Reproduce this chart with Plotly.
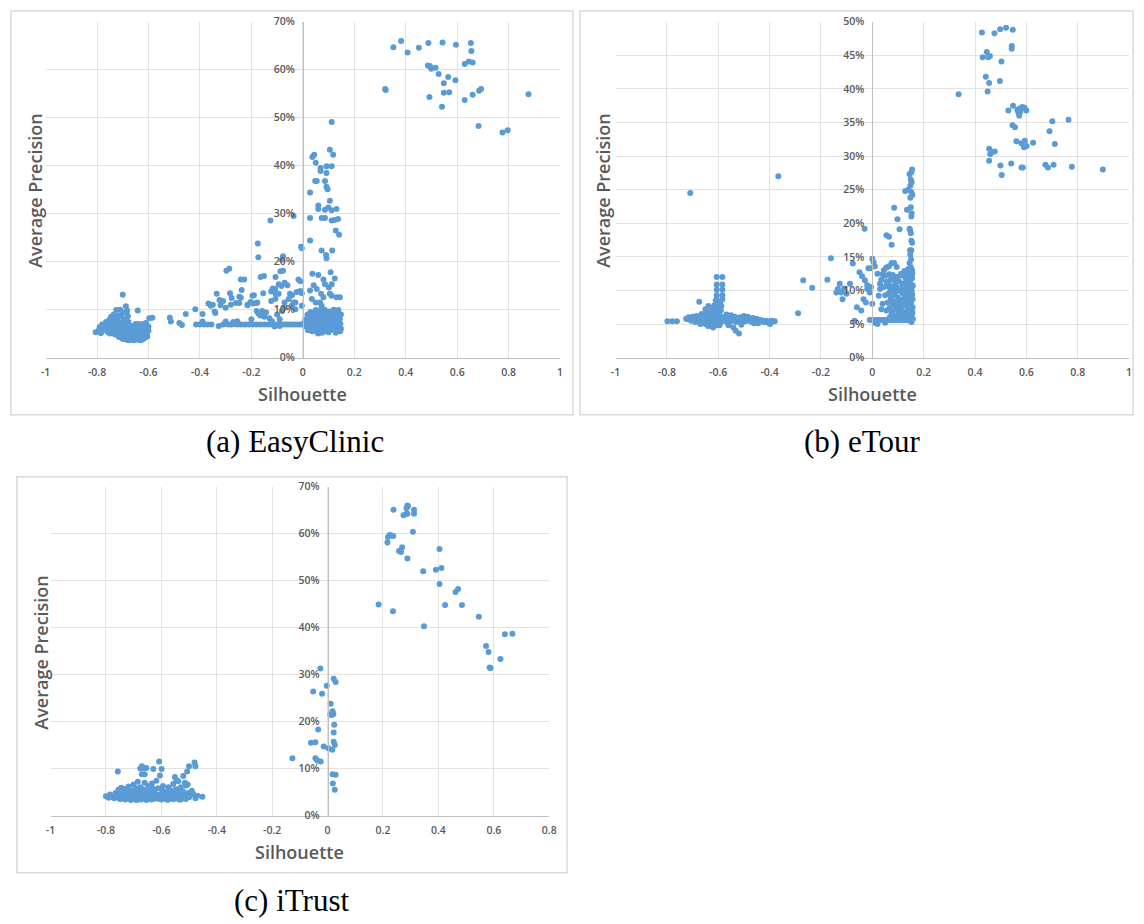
import plotly.graph_objects as go

W, H = 1144, 924

# ---------------- tick labels / texts ----------------
x_tickvals_ab = [-1, -0.8, -0.6, -0.4, -0.2, 0, 0.2, 0.4, 0.6, 0.8, 1]
x_ticktext_ab = ["-1", "-0.8", "-0.6", "-0.4", "-0.2", "0", "0.2", "0.4", "0.6", "0.8", "1"]
x_tickvals_c = [-1, -0.8, -0.6, -0.4, -0.2, 0, 0.2, 0.4, 0.6, 0.8]
x_ticktext_c = ["-1", "-0.8", "-0.6", "-0.4", "-0.2", "0", "0.2", "0.4", "0.6", "0.8"]
y_tickvals_70 = [0, 10, 20, 30, 40, 50, 60, 70]
y_ticktext_70 = ["0%", "10%", "20%", "30%", "40%", "50%", "60%", "70%"]
y_tickvals_50 = [0, 5, 10, 15, 20, 25, 30, 35, 40, 45, 50]
y_ticktext_50 = ["0%", "5%", "10%", "15%", "20%", "25%", "30%", "35%", "40%", "45%", "50%"]
captions = ["(a) EasyClinic", "(b) eTour", "(c) iTrust"]
x_title = "Silhouette"
y_title = "Average Precision"

# ---------------- (a) EasyClinic: (silhouette, average precision %) ----------------
easyclinic_top = [
    (0.382, 66.0), (0.352, 64.7), (0.407, 63.6), (0.451, 64.6), (0.488, 65.6), (0.543, 65.7),
    (0.595, 65.2), (0.653, 65.6), (0.655, 63.9), (0.629, 61.2), (0.645, 61.7), (0.660, 61.5),
    (0.486, 60.9), (0.494, 60.8), (0.499, 60.2), (0.516, 60.4), (0.528, 59.1), (0.565, 58.5),
    (0.593, 57.8), (0.548, 57.2), (0.548, 55.2), (0.569, 55.3), (0.320, 56.0), (0.322, 55.8),
    (0.492, 54.3), (0.660, 54.8), (0.629, 53.7), (0.685, 55.6), (0.693, 56.0), (0.541, 52.3),
    (0.877, 54.9), (0.683, 48.3), (0.776, 46.9), (0.796, 47.4),
]
easyclinic_strip = [
    (0.112, 49.1), (0.105, 43.3), (0.118, 42.3), (0.037, 41.8), (0.044, 42.3), (0.050, 40.6),
    (0.092, 39.9), (0.112, 39.9), (0.069, 39.5), (0.069, 38.9), (0.092, 38.5), (0.054, 36.8),
    (0.048, 36.8), (0.086, 36.8), (0.092, 35.6), (0.096, 35.1), (0.028, 34.4), (0.105, 32.7),
    (0.060, 31.7), (0.060, 31.0), (0.099, 31.3), (0.086, 30.8), (0.131, 31.0), (0.112, 30.7),
    (0.028, 29.1), (0.073, 29.1), (0.086, 29.1), (0.112, 28.6), (0.124, 28.7), (0.137, 28.9),
    (0.128, 26.5), (0.141, 25.6), (0.028, 24.4), (0.073, 22.3), (0.114, 22.3), (0.090, 21.4),
    (0.092, 20.7), (0.108, 17.8), (0.037, 17.5), (0.060, 17.2), (0.080, 16.3), (0.124, 16.5),
    (0.086, 15.3), (0.101, 14.6), (0.042, 15.1), (0.054, 14.3), (0.112, 15.3), (0.028, 14.0),
    (0.071, 13.3), (0.080, 12.6), (0.105, 13.3), (0.112, 12.9), (0.131, 12.6), (0.144, 12.6),
    (0.035, 12.2), (0.050, 11.5), (0.067, 11.5), (0.073, 10.8),
]
easyclinic_middle = [
    (-0.517, 8.3), (-0.513, 7.5), (-0.480, 7.2), (-0.470, 6.8), (-0.455, 9.1), (-0.418, 10.1),
    (-0.390, 9.1), (-0.367, 11.3), (-0.358, 10.8), (-0.335, 13.3), (-0.343, 9.6), (-0.340, 9.3),
    (-0.324, 12.0), (-0.320, 10.9), (-0.297, 18.1), (-0.286, 18.5), (-0.283, 13.4), (-0.277, 12.4),
    (-0.280, 11.0), (-0.260, 11.4), (-0.247, 11.4), (-0.238, 14.1), (-0.241, 16.3), (-0.228, 16.3),
    (-0.247, 12.7), (-0.241, 12.5), (-0.215, 10.9), (-0.196, 12.9), (-0.192, 11.3), (-0.180, 11.4),
    (-0.173, 20.9), (-0.175, 23.8), (-0.164, 16.8), (-0.151, 17.0), (-0.154, 13.4), (-0.180, 9.7),
    (-0.173, 9.2), (-0.165, 8.8), (-0.158, 9.7), (-0.143, 9.4), (-0.150, 8.5), (-0.126, 28.6),
    (-0.106, 16.8), (-0.117, 14.4), (-0.110, 13.8), (-0.105, 13.2), (-0.087, 18.0), (-0.077, 18.1),
    (-0.077, 21.1), (-0.081, 20.4), (-0.094, 15.3), (-0.083, 14.9), (-0.071, 15.6), (-0.107, 14.3),
    (-0.094, 13.3), (-0.123, 13.8), (-0.050, 13.3), (-0.024, 13.7), (-0.010, 13.9), (-0.004, 13.4),
    (-0.123, 11.8), (-0.107, 12.2), (-0.071, 11.5), (-0.190, 13.0), (-0.177, 11.5), (-0.081, 9.7),
    (-0.071, 10.4), (-0.043, 10.8), (-0.029, 10.1), (-0.029, 11.5), (-0.004, 10.8), (-0.215, 11.0),
    (-0.203, 11.6), (-0.036, 29.5), (-0.042, 13.0), (-0.036, 11.5), (-0.017, 16.3), (-0.010, 15.9),
    (-0.060, 15.1), (-0.055, 12.2), (-0.100, 9.0), (-0.090, 8.0), (-0.130, 8.2), (-0.120, 7.6),
    (-0.300, 7.5), (-0.270, 7.4), (-0.255, 7.6), (-0.200, 8.0), (-0.310, 11.8), (-0.350, 11.0),
    (-0.300, 10.4), (-0.390, 7.5), (-0.007, 23.1), (-0.004, 22.8),
]
easyclinic_row = [
    (-0.415, 6.9), (-0.400, 6.9), (-0.385, 6.9), (-0.370, 6.9), (-0.355, 6.9), (-0.327, 6.6),
    (-0.310, 6.9), (-0.298, 7.0), (-0.288, 6.9), (-0.278, 6.9), (-0.268, 7.0), (-0.255, 6.9),
    (-0.240, 6.9), (-0.225, 6.9), (-0.210, 6.9), (-0.195, 6.9), (-0.180, 6.9), (-0.165, 6.9),
    (-0.150, 6.9), (-0.135, 6.9), (-0.120, 6.9), (-0.110, 6.9), (-0.100, 6.9), (-0.090, 6.9),
    (-0.080, 6.9), (-0.070, 6.9), (-0.060, 6.9), (-0.050, 6.9), (-0.040, 6.9), (-0.030, 6.9),
    (-0.020, 6.9), (-0.010, 6.9), (0.000, 6.9), (0.010, 6.9), (-0.110, 6.5), (-0.090, 6.6),
]
easyclinic_dense = [
    (0.005, 7.2), (0.010, 8.0), (0.012, 6.5), (0.015, 7.6), (0.018, 9.0), (0.020, 6.9), (0.022, 8.4),
    (0.025, 7.3), (0.028, 6.2), (0.030, 9.5), (0.032, 7.9), (0.035, 6.7), (0.037, 8.6), (0.040, 7.1),
    (0.042, 5.8), (0.045, 8.0), (0.047, 9.2), (0.050, 6.5), (0.052, 7.6), (0.055, 5.3), (0.057, 8.8),
    (0.060, 7.0), (0.062, 6.1), (0.064, 9.8), (0.066, 8.2), (0.068, 5.6), (0.070, 7.4), (0.072, 6.6),
    (0.074, 8.9), (0.076, 7.8), (0.078, 5.9), (0.080, 9.3), (0.082, 7.0), (0.084, 6.3), (0.086, 8.5),
    (0.088, 7.5), (0.090, 5.5), (0.092, 9.0), (0.094, 6.8), (0.096, 8.1), (0.098, 7.2), (0.100, 6.0),
    (0.102, 9.6), (0.104, 7.7), (0.106, 6.5), (0.108, 8.6), (0.110, 7.1), (0.112, 5.8), (0.114, 8.3),
    (0.116, 6.9), (0.118, 9.1), (0.120, 7.5), (0.122, 6.2), (0.124, 8.0), (0.126, 7.0), (0.128, 9.6),
    (0.130, 6.6), (0.132, 8.4), (0.134, 7.3), (0.136, 5.9), (0.138, 8.8), (0.140, 7.7), (0.142, 6.4),
    (0.144, 8.1), (0.146, 7.0), (0.148, 9.0), (0.148, 6.0), (0.145, 5.5), (0.060, 5.0), (0.075, 5.2),
    (0.090, 6.3), (0.050, 9.9), (0.085, 10.0), (0.120, 10.0), (0.035, 5.5), (0.020, 5.7), (0.100, 5.3),
    (0.130, 5.6), (0.065, 7.9), (0.095, 7.8), (0.115, 7.6), (0.055, 6.9), (0.080, 6.8), (0.110, 6.9),
    (0.140, 6.9), (0.125, 8.9), (0.100, 8.7), (0.070, 8.5), (0.045, 7.0), (0.025, 8.6), (0.138, 9.9),
    (0.128, 5.2),
]
easyclinic_left = [
    (-0.805, 5.3), (-0.795, 5.6), (-0.790, 6.4), (-0.785, 5.1), (-0.780, 6.9), (-0.775, 5.8),
    (-0.770, 6.2), (-0.765, 7.4), (-0.760, 5.4), (-0.758, 6.7), (-0.752, 7.9), (-0.750, 6.0),
    (-0.745, 8.5), (-0.742, 5.2), (-0.740, 7.0), (-0.735, 9.0), (-0.733, 6.3), (-0.730, 8.1),
    (-0.728, 5.6), (-0.725, 9.9), (-0.722, 7.5), (-0.720, 4.9), (-0.718, 6.8), (-0.715, 8.8),
    (-0.712, 5.9), (-0.710, 10.0), (-0.708, 7.2), (-0.705, 4.5), (-0.703, 6.4), (-0.700, 13.1),
    (-0.700, 9.4), (-0.698, 5.5), (-0.695, 8.0), (-0.692, 4.1), (-0.690, 6.9), (-0.688, 10.7),
    (-0.685, 5.0), (-0.683, 9.8), (-0.680, 3.8), (-0.678, 7.4), (-0.675, 6.1), (-0.672, 4.6),
    (-0.670, 5.6), (-0.667, 3.7), (-0.665, 6.6), (-0.662, 4.3), (-0.660, 5.2), (-0.657, 3.6),
    (-0.655, 6.0), (-0.652, 4.8), (-0.650, 7.0), (-0.648, 3.9), (-0.645, 5.5), (-0.642, 9.8),
    (-0.640, 4.4), (-0.637, 6.5), (-0.635, 3.7), (-0.632, 5.0), (-0.630, 4.1), (-0.627, 6.2),
    (-0.625, 5.7), (-0.622, 3.8), (-0.620, 4.7), (-0.617, 6.8), (-0.615, 5.3), (-0.612, 4.2),
    (-0.610, 6.0), (-0.607, 5.0), (-0.605, 4.4), (-0.600, 5.6), (-0.597, 8.2), (-0.585, 8.3),
    (-0.600, 6.5), (-0.690, 4.0), (-0.675, 3.6), (-0.660, 4.0), (-0.645, 3.7), (-0.630, 3.6),
    (-0.715, 4.3), (-0.730, 4.8), (-0.750, 5.0), (-0.640, 7.0), (-0.622, 7.0), (-0.610, 7.2),
    (-0.700, 3.9), (-0.685, 3.7), (-0.672, 4.0), (-0.655, 3.9), (-0.640, 4.0), (-0.625, 4.3),
    (-0.610, 4.6), (-0.695, 4.7), (-0.680, 4.3), (-0.665, 4.7), (-0.648, 4.5), (-0.633, 4.6),
    (-0.618, 5.2), (-0.705, 5.3), (-0.690, 5.2), (-0.675, 5.1), (-0.660, 5.5), (-0.645, 5.1),
    (-0.630, 5.4), (-0.700, 6.0), (-0.685, 5.9), (-0.668, 6.3), (-0.652, 5.8), (-0.638, 5.9),
    (-0.620, 5.9), (-0.740, 6.4), (-0.725, 6.7), (-0.710, 6.2), (-0.735, 7.6), (-0.720, 8.3),
    (-0.705, 8.5), (-0.690, 7.9), (-0.680, 8.6), (-0.685, 9.3), (-0.750, 7.3),
]

# ---------------- (b) eTour ----------------
etour_top = [
    (0.427, 48.4), (0.476, 48.3), (0.498, 48.9), (0.521, 49.1), (0.547, 48.8), (0.543, 46.4),
    (0.543, 46.0), (0.446, 45.5), (0.430, 44.7), (0.451, 44.7), (0.458, 44.9), (0.503, 44.1),
    (0.442, 41.8), (0.455, 40.9), (0.497, 41.2), (0.449, 39.6), (0.336, 39.2), (0.548, 37.5),
    (0.530, 36.8), (0.565, 36.9), (0.574, 37.1), (0.584, 37.3), (0.593, 37.2), (0.600, 36.8),
    (0.569, 36.5), (0.572, 36.0), (0.576, 36.6), (0.546, 34.6), (0.556, 34.3), (0.701, 35.2),
    (0.764, 35.4), (0.690, 33.7), (0.561, 32.2), (0.580, 31.9), (0.594, 32.3), (0.626, 32.0),
    (0.591, 31.3), (0.601, 31.5), (0.711, 31.8), (0.455, 31.1), (0.459, 30.3), (0.468, 30.6),
    (0.477, 30.7), (0.455, 29.3), (0.499, 28.6), (0.541, 28.9), (0.581, 28.3), (0.586, 28.3),
    (0.504, 27.2), (0.674, 28.7), (0.684, 28.3), (0.706, 28.7), (0.777, 28.4), (0.898, 28.0),
]
etour_strip = [
    (0.155, 28.0), (0.152, 27.6), (0.150, 26.5), (0.153, 26.1), (0.148, 25.6), (0.140, 25.0),
    (0.152, 24.6), (0.156, 24.2), (0.148, 23.8), (0.150, 22.4), (0.153, 21.5), (0.152, 21.0),
    (0.145, 19.2), (0.150, 18.5), (0.147, 19.0), (0.152, 17.4), (0.155, 17.1), (0.147, 16.0),
    (0.152, 16.0), (0.148, 15.3), (0.151, 14.6), (0.145, 14.1), (0.135, 22.0), (0.128, 24.8),
    (0.145, 27.3),
]
etour_middle = [
    (0.085, 22.3), (0.098, 20.6), (0.106, 19.1), (-0.030, 19.2), (0.055, 18.2), (0.065, 18.0),
    (0.075, 16.8), (-0.161, 14.8), (-0.076, 14.0), (0.000, 14.7), (-0.175, 11.6), (-0.709, 24.5),
    (-0.366, 27.0), (-0.289, 6.6), (-0.269, 11.5), (-0.234, 10.4), (-0.127, 11.0), (-0.134, 10.2),
    (-0.140, 9.7), (-0.120, 9.7), (-0.116, 8.7), (-0.087, 11.0), (-0.100, 9.5), (-0.110, 10.3),
    (-0.015, 13.3), (-0.006, 13.3), (0.005, 14.2), (0.010, 13.6), (-0.050, 12.7), (-0.040, 12.1),
    (-0.029, 11.5), (-0.020, 10.8), (-0.020, 10.2), (-0.010, 9.7), (-0.034, 8.7), (-0.025, 8.2),
    (-0.060, 7.5), (-0.043, 7.0), (-0.069, 5.5), (0.000, 8.0), (-0.005, 10.5), (0.020, 12.5),
    (0.030, 11.0),
]
etour_row = [
    (-0.010, 5.6), (0.000, 5.6), (0.010, 5.6), (0.020, 5.6), (0.030, 5.6), (0.040, 5.6),
    (0.050, 5.6), (0.060, 5.6), (0.070, 5.6), (0.080, 5.6), (0.090, 5.6), (0.100, 5.6),
    (0.110, 5.6), (0.120, 5.6), (0.130, 5.6), (0.010, 5.2), (0.020, 5.0), (0.050, 5.2),
]
etour_dense = [
    (0.060, 8.2), (0.062, 9.5), (0.065, 10.8), (0.067, 7.4), (0.070, 11.6), (0.072, 8.8), (0.075, 6.5),
    (0.077, 10.1), (0.080, 12.3), (0.082, 7.9), (0.085, 9.3), (0.087, 6.2), (0.090, 11.0), (0.092, 8.4),
    (0.095, 10.4), (0.097, 7.1), (0.100, 12.0), (0.100, 9.0), (0.102, 6.6), (0.105, 11.3), (0.107, 8.0),
    (0.110, 10.0), (0.110, 6.0), (0.112, 12.5), (0.115, 7.5), (0.117, 9.6), (0.120, 11.0), (0.120, 8.5),
    (0.122, 6.3), (0.125, 10.5), (0.125, 7.8), (0.127, 12.0), (0.130, 9.2), (0.130, 6.8), (0.132, 11.5),
    (0.134, 8.0), (0.135, 10.0), (0.137, 5.9), (0.138, 12.5), (0.140, 7.2), (0.140, 9.6), (0.142, 11.2),
    (0.143, 6.4), (0.144, 8.6), (0.145, 10.4), (0.146, 5.5), (0.147, 12.0), (0.148, 7.7), (0.149, 9.0),
    (0.150, 11.0), (0.150, 6.1), (0.151, 8.2), (0.152, 10.2), (0.153, 5.3), (0.154, 7.0), (0.155, 9.4),
    (0.155, 11.8), (0.156, 6.6), (0.157, 8.7), (0.158, 10.7), (0.158, 5.8), (0.157, 7.5), (0.153, 9.9),
    (0.148, 12.8), (0.156, 12.5), (0.141, 10.8), (0.136, 7.6), (0.131, 10.7), (0.126, 9.0), (0.121, 12.2),
    (0.116, 10.8), (0.111, 8.6), (0.106, 10.0), (0.101, 7.6), (0.096, 12.0), (0.091, 9.8), (0.086, 11.5),
    (0.081, 10.6), (0.076, 8.3), (0.071, 9.9), (0.066, 12.4), (0.061, 10.6), (0.145, 6.9), (0.139, 8.3),
    (0.133, 5.6), (0.128, 6.0), (0.118, 5.7), (0.108, 6.9), (0.098, 5.8), (0.088, 7.7), (0.078, 6.9),
    (0.068, 6.0), (0.155, 13.0), (0.150, 13.5), (0.140, 13.2), (0.125, 12.9), (0.095, 13.5), (0.085, 14.1),
    (0.075, 14.1), (0.065, 13.6), (0.055, 13.4), (0.045, 13.0), (0.050, 12.2), (0.055, 11.3), (0.045, 10.5),
    (0.050, 9.3), (0.040, 8.0), (0.055, 7.0), (0.035, 11.6), (0.030, 10.2), (0.025, 9.2), (0.035, 7.2),
    (0.040, 12.4),
]
etour_left = [
    (-0.798, 5.4), (-0.779, 5.4), (-0.761, 5.4), (-0.720, 5.7), (-0.710, 5.9), (-0.700, 6.1),
    (-0.690, 5.8), (-0.685, 6.2), (-0.680, 5.6), (-0.674, 8.3), (-0.670, 5.9), (-0.665, 6.5),
    (-0.660, 5.4), (-0.655, 6.0), (-0.650, 5.0), (-0.648, 6.8), (-0.645, 5.6), (-0.642, 6.3),
    (-0.638, 7.7), (-0.636, 5.2), (-0.633, 5.9), (-0.630, 4.7), (-0.628, 6.6), (-0.625, 5.5),
    (-0.622, 6.1), (-0.620, 5.0), (-0.618, 7.0), (-0.615, 5.7), (-0.612, 6.4), (-0.610, 5.3),
    (-0.608, 4.8), (-0.606, 12.0), (-0.584, 12.0), (-0.606, 10.9), (-0.584, 10.9), (-0.606, 10.1),
    (-0.584, 10.1), (-0.606, 9.3), (-0.584, 9.3), (-0.606, 8.7), (-0.584, 8.7), (-0.600, 8.2),
    (-0.592, 8.2), (-0.605, 7.7), (-0.588, 7.7), (-0.600, 7.2), (-0.590, 7.0), (-0.603, 6.7),
    (-0.596, 6.5), (-0.600, 6.2), (-0.594, 5.9), (-0.598, 5.6), (-0.590, 5.3), (-0.602, 5.0),
    (-0.595, 4.8), (-0.585, 6.0), (-0.580, 5.5), (-0.575, 5.8), (-0.570, 6.2), (-0.565, 5.2),
    (-0.560, 5.7), (-0.555, 6.0), (-0.550, 5.4), (-0.545, 5.9), (-0.541, 4.5), (-0.540, 5.6),
    (-0.535, 6.1), (-0.532, 4.0), (-0.530, 5.3), (-0.525, 5.8), (-0.519, 3.6), (-0.520, 5.5),
    (-0.515, 6.0), (-0.510, 5.2), (-0.505, 5.7), (-0.500, 5.9), (-0.495, 5.4), (-0.490, 5.8),
    (-0.485, 6.1), (-0.480, 5.5), (-0.475, 5.7), (-0.470, 5.3), (-0.465, 5.9), (-0.460, 5.6),
    (-0.455, 5.4), (-0.450, 5.8), (-0.445, 5.5), (-0.440, 5.3), (-0.435, 5.6), (-0.430, 5.4),
    (-0.425, 5.5), (-0.420, 5.3), (-0.415, 5.5), (-0.410, 5.4), (-0.405, 5.2), (-0.398, 5.0),
    (-0.395, 5.5), (-0.385, 5.4), (-0.380, 5.4), (-0.660, 5.8), (-0.652, 5.3), (-0.644, 5.9),
    (-0.637, 6.2), (-0.626, 5.8), (-0.616, 5.4), (-0.620, 6.6), (-0.640, 6.6), (-0.650, 7.2),
    (-0.630, 7.4), (-0.615, 7.8), (-0.610, 8.5), (-0.613, 6.0), (-0.568, 6.4), (-0.550, 6.3),
    (-0.500, 6.2), (-0.510, 4.9), (-0.460, 5.1), (-0.445, 5.1), (-0.560, 4.8), (-0.620, 4.5),
    (-0.640, 4.7), (-0.670, 5.0), (-0.690, 5.3), (-0.705, 5.5), (-0.715, 6.0), (-0.725, 5.8),
]

# ---------------- (c) iTrust ----------------
itrust_top = [
    (0.238, 65.1), (0.288, 66.0), (0.290, 65.8), (0.285, 65.4), (0.312, 65.1), (0.312, 64.2),
    (0.274, 63.9), (0.281, 64.1), (0.288, 64.2), (0.308, 60.4), (0.218, 59.3), (0.224, 59.7),
    (0.231, 59.6), (0.237, 59.5), (0.216, 58.1), (0.269, 57.1), (0.258, 56.3), (0.265, 56.1),
    (0.288, 54.7), (0.404, 56.7), (0.345, 52.0), (0.391, 52.3), (0.411, 52.7), (0.404, 49.3),
    (0.462, 47.6), (0.471, 48.2), (0.184, 44.9), (0.424, 44.8), (0.485, 44.8), (0.236, 43.5),
    (0.546, 42.3), (0.348, 40.3), (0.640, 38.6), (0.667, 38.7), (0.572, 36.1), (0.581, 34.8),
    (0.624, 33.3), (0.585, 31.5), (0.588, 31.4),
]
itrust_middle = [
    (-0.026, 31.3), (0.022, 29.1), (0.029, 28.4), (-0.003, 27.6), (-0.052, 26.4), (-0.020, 25.9),
    (0.011, 23.8), (0.018, 22.2), (0.021, 21.6), (0.010, 21.5), (0.015, 21.4), (0.024, 19.3),
    (-0.034, 18.3), (0.022, 17.7), (-0.060, 15.5), (-0.044, 15.6), (0.022, 15.7), (0.026, 15.0),
    (-0.014, 14.7), (0.003, 14.3), (0.017, 14.0), (-0.127, 12.2), (-0.044, 12.2), (-0.037, 11.7),
    (-0.025, 11.5), (0.018, 8.8), (0.029, 8.7), (0.019, 6.8), (0.026, 5.5),
]
itrust_left = [
    (-0.800, 4.1), (-0.790, 3.8), (-0.785, 4.5), (-0.775, 4.2), (-0.770, 3.7), (-0.765, 4.8),
    (-0.757, 9.4), (-0.760, 4.0), (-0.755, 5.5), (-0.750, 3.5), (-0.748, 4.6), (-0.745, 5.9),
    (-0.740, 3.9), (-0.738, 5.1), (-0.735, 4.3), (-0.730, 3.4), (-0.728, 5.7), (-0.725, 4.8),
    (-0.720, 3.8), (-0.718, 6.2), (-0.715, 4.4), (-0.710, 3.3), (-0.708, 5.3), (-0.705, 4.0),
    (-0.700, 6.6), (-0.700, 3.6), (-0.697, 4.9), (-0.694, 5.8), (-0.690, 3.3), (-0.688, 4.4),
    (-0.685, 7.2), (-0.682, 3.8), (-0.680, 5.2), (-0.676, 10.0), (-0.670, 10.5), (-0.662, 10.1),
    (-0.654, 10.1), (-0.670, 8.8), (-0.660, 8.8), (-0.676, 6.0), (-0.673, 3.4), (-0.670, 4.6),
    (-0.667, 5.6), (-0.664, 3.9), (-0.660, 7.0), (-0.657, 4.3), (-0.654, 3.3), (-0.650, 5.0),
    (-0.648, 6.3), (-0.645, 3.7), (-0.642, 4.7), (-0.640, 5.6), (-0.636, 3.4), (-0.634, 6.8),
    (-0.630, 4.1), (-0.629, 9.9), (-0.627, 5.2), (-0.624, 3.6), (-0.620, 4.6), (-0.618, 7.4),
    (-0.615, 3.9), (-0.612, 5.8), (-0.608, 11.5), (-0.605, 8.5), (-0.599, 9.9), (-0.605, 4.4),
    (-0.600, 3.4), (-0.597, 5.3), (-0.594, 6.3), (-0.590, 4.0), (-0.587, 3.6), (-0.584, 5.0),
    (-0.580, 4.5), (-0.577, 3.3), (-0.574, 6.0), (-0.570, 4.1), (-0.567, 5.4), (-0.564, 3.7),
    (-0.560, 4.8), (-0.557, 6.7), (-0.554, 3.5), (-0.551, 8.2), (-0.550, 4.4), (-0.547, 5.6),
    (-0.545, 7.5), (-0.543, 3.9), (-0.539, 7.3), (-0.540, 5.0), (-0.536, 3.4), (-0.532, 4.5),
    (-0.530, 6.0), (-0.527, 3.8), (-0.523, 5.2), (-0.521, 8.4), (-0.520, 4.3), (-0.515, 7.0),
    (-0.512, 3.5), (-0.510, 6.4), (-0.507, 9.4), (-0.505, 6.6), (-0.505, 4.8), (-0.500, 10.5),
    (-0.500, 3.9), (-0.496, 4.4), (-0.490, 5.3), (-0.480, 11.3), (-0.477, 10.5), (-0.477, 3.7),
    (-0.452, 4.0), (-0.485, 4.6), (-0.470, 4.2), (-0.745, 3.6), (-0.730, 4.3), (-0.715, 3.6),
    (-0.700, 4.3), (-0.685, 3.4), (-0.675, 4.2), (-0.655, 4.6), (-0.640, 4.0), (-0.625, 4.4),
    (-0.610, 3.6), (-0.595, 4.6), (-0.575, 4.1), (-0.560, 3.5), (-0.545, 4.6), (-0.530, 3.4),
    (-0.515, 4.1), (-0.720, 5.2), (-0.690, 5.5), (-0.660, 5.3), (-0.630, 5.7), (-0.600, 5.7),
    (-0.570, 5.4), (-0.535, 5.6), (-0.750, 4.1), (-0.780, 4.0),
]

easyclinic = easyclinic_top + easyclinic_strip + easyclinic_middle + easyclinic_row + easyclinic_dense + easyclinic_left
etour = etour_top + etour_strip + etour_middle + etour_row + etour_dense + etour_left
itrust = itrust_top + itrust_middle + itrust_left

# ---------------- layout helpers (pixel boxes) ----------------
def fx(px):
    return px / W

def fy(py):
    return 1 - py / H

panels = [
    dict(data=easyclinic, xpx=(41, 561), ypx=(356, 15), xr=[-1, 1], yr=[0, 70],
         xt=(x_tickvals_ab, x_ticktext_ab), yt=(y_tickvals_70, y_ticktext_70),
         frame=(6, 4, 574, 414), xtit=(301, 393), ytit=(31, 186), cap=(293, 441)),
    dict(data=etour, xpx=(617, 1136), ypx=(356, 15), xr=[-1, 1], yr=[0, 50],
         xt=(x_tickvals_ab, x_ticktext_ab), yt=(y_tickvals_50, y_ticktext_50),
         frame=(581, 4, 1140, 414), xtit=(877, 393), ytit=(605, 186), cap=(866, 441)),
    dict(data=itrust, xpx=(46, 550), ypx=(821, 487), xr=[-1, 0.8], yr=[0, 70],
         xt=(x_tickvals_c, x_ticktext_c), yt=(y_tickvals_70, y_ticktext_70),
         frame=(12, 477, 568, 879), xtit=(298, 858), ytit=(36, 655), cap=(290, 907)),
]

TICK_FONT = dict(family="Open Sans", size=10.5, color="#595959", weight=600)
TITLE_FONT = dict(family="Open Sans", size=18, color="#595959", weight=600)
CAP_FONT = dict(family="Liberation Serif", size=31, color="#000000")
GRID = "#E2E2E2"
AXLINE = "#BFBFBF"

fig = go.Figure()
layout = dict(width=W, height=H, margin=dict(l=0, r=0, t=0, b=0),
              paper_bgcolor="white", plot_bgcolor="white", showlegend=False)
shapes, annotations = [], []

for i, p in enumerate(panels, start=1):
    sx = "" if i == 1 else str(i)
    xs = [pt[0] for pt in p["data"]]
    ys = [pt[1] for pt in p["data"]]
    fig.add_trace(go.Scatter(x=xs, y=ys, mode="markers", xaxis="x" + sx, yaxis="y" + sx,
                             marker=dict(color="#5B9BD5", size=6, line=dict(width=0)),
                             hoverinfo="skip"))
    xd = [fx(p["xpx"][0]), fx(p["xpx"][1])]
    yd = [fy(p["ypx"][0]), fy(p["ypx"][1])]
    zero_pos = xd[0] + (0 - p["xr"][0]) / (p["xr"][1] - p["xr"][0]) * (xd[1] - xd[0])
    layout["xaxis" + sx] = dict(domain=xd, range=p["xr"], anchor="y" + sx,
                                tickvals=p["xt"][0], ticktext=p["xt"][1], tickfont=TICK_FONT,
                                showgrid=True, gridcolor=GRID, gridwidth=1,
                                showline=True, linecolor=AXLINE, linewidth=1,
                                zeroline=False, ticks="", ticklabelstandoff=5, fixedrange=True)
    layout["yaxis" + sx] = dict(domain=yd, range=p["yr"], anchor="free", position=zero_pos,
                                tickvals=p["yt"][0], ticktext=p["yt"][1], tickfont=TICK_FONT,
                                showgrid=True, gridcolor=GRID, gridwidth=1,
                                showline=True, linecolor=AXLINE, linewidth=1,
                                zeroline=False, ticks="", ticklabelstandoff=6, fixedrange=True)
    x0, y0, x1, y1 = p["frame"]
    shapes.append(dict(type="rect", xref="paper", yref="paper", x0=fx(x0), x1=fx(x1),
                       y0=fy(y1), y1=fy(y0), line=dict(color="#D9D9D9", width=1.5), layer="below"))
    annotations.append(dict(text=x_title, xref="paper", yref="paper", x=fx(p["xtit"][0]), y=fy(p["xtit"][1]),
                            xanchor="center", yanchor="middle", showarrow=False, font=TITLE_FONT))
    annotations.append(dict(text=y_title, xref="paper", yref="paper", x=fx(p["ytit"][0]), y=fy(p["ytit"][1]),
                            xanchor="center", yanchor="middle", showarrow=False, textangle=-90, font=TITLE_FONT))
    annotations.append(dict(text=captions[i - 1], xref="paper", yref="paper", x=fx(p["cap"][0]), y=fy(p["cap"][1]),
                            xanchor="center", yanchor="middle", showarrow=False, font=CAP_FONT))

layout["shapes"] = shapes
layout["annotations"] = annotations
fig.update_layout(**layout)
fig.write_html("out.html")
